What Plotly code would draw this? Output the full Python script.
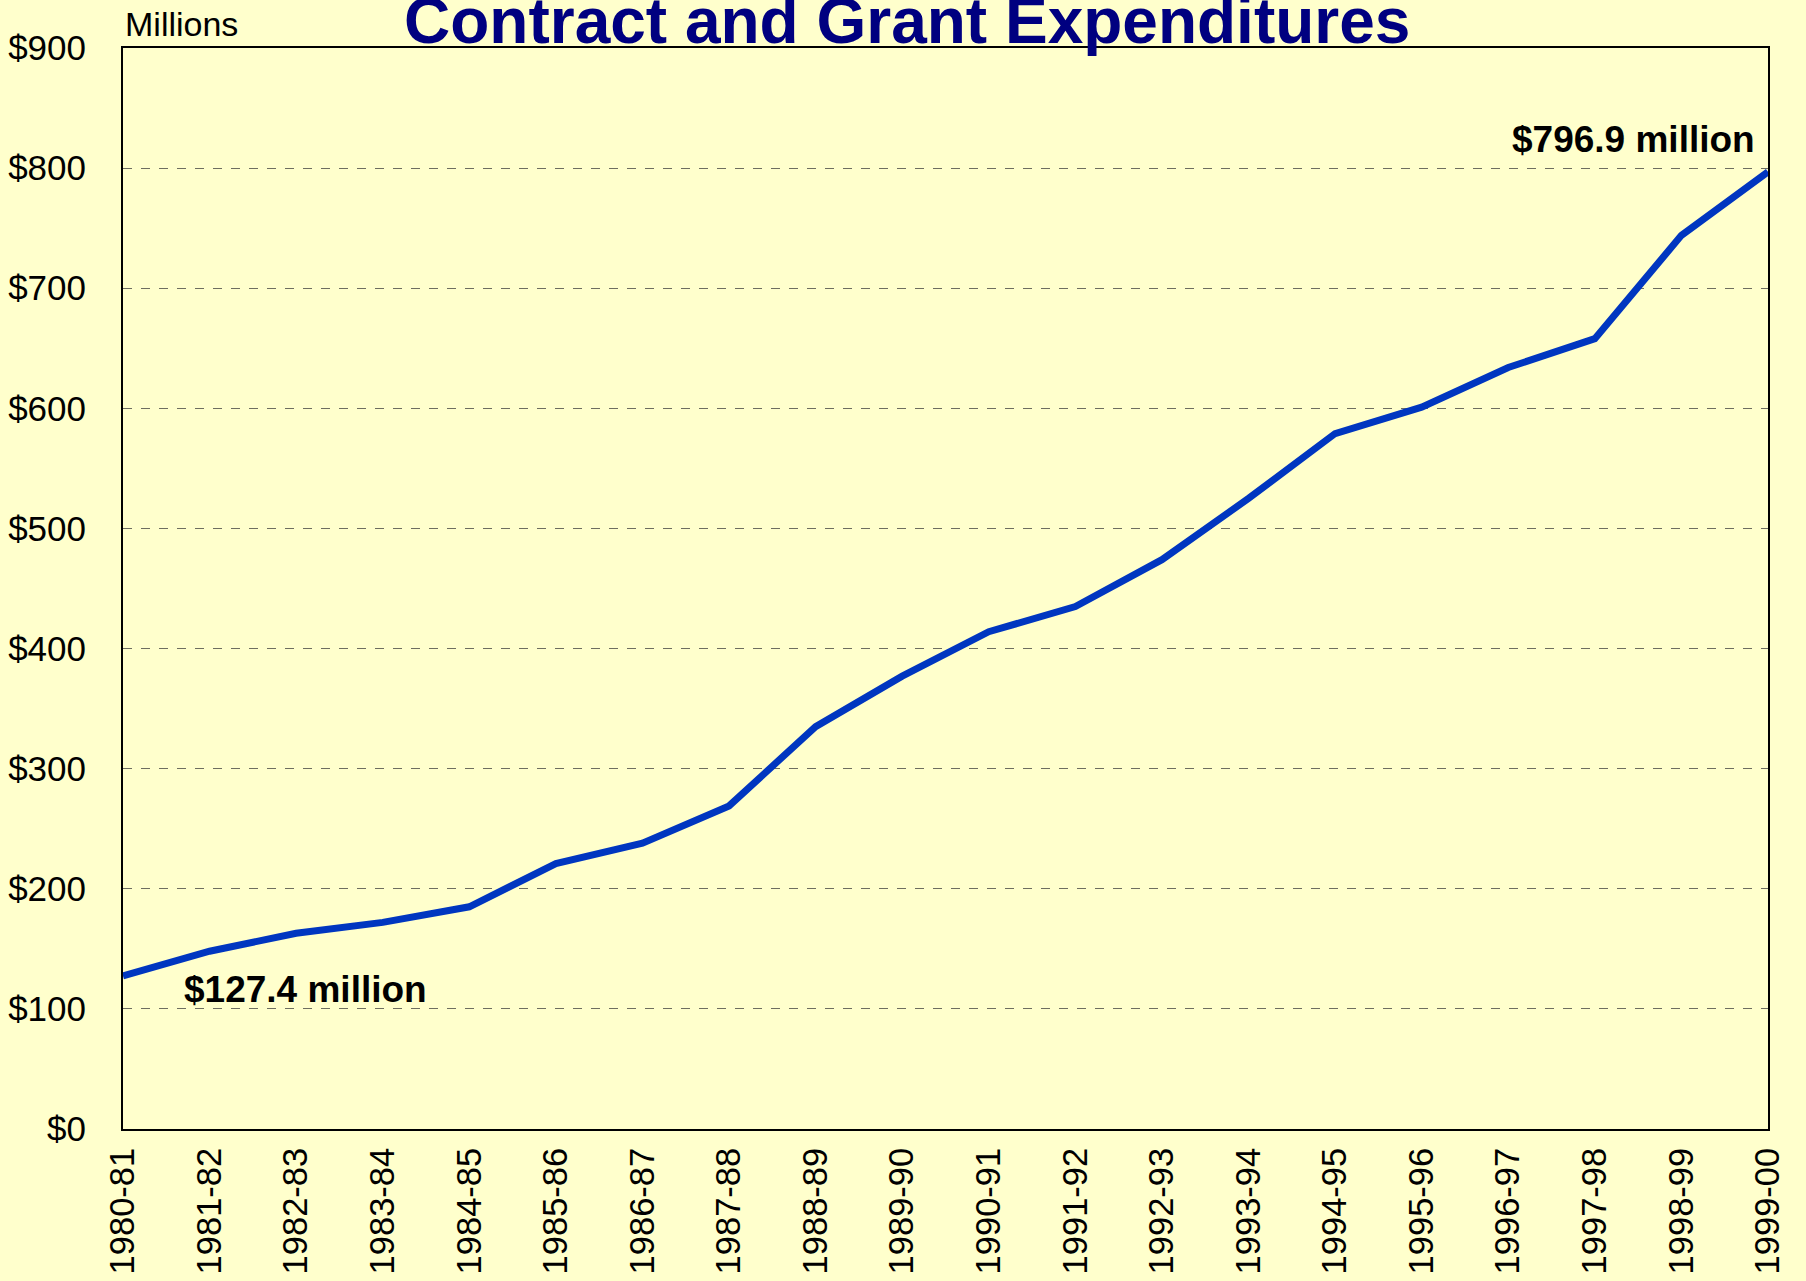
import plotly.graph_objects as go

# Gasto en contratos y subvenciones, millones de dólares
anios = ['1980-81', '1981-82', '1982-83', '1983-84', '1984-85', '1985-86', '1986-87',
         '1987-88', '1988-89', '1989-90', '1990-91', '1991-92', '1992-93', '1993-94',
         '1994-95', '1995-96', '1996-97', '1997-98', '1998-99', '1999-00']
gasto = [127.4, 148, 163, 172, 185, 221, 238, 269, 335, 377,
         414, 435, 474, 525, 579, 601, 634, 658, 744, 796.9]

y_ticks = [0, 100, 200, 300, 400, 500, 600, 700, 800, 900]
y_labels = ['$' + str(v) for v in y_ticks]

FUENTE = 'Liberation Sans, Arial, sans-serif'
FONDO = '#FFFFCC'

fig = go.Figure()
fig.add_trace(go.Scatter(x=anios, y=gasto, mode='lines',
                         line=dict(color='#0036C0', width=7),
                         showlegend=False, hoverinfo='x+y'))

fig.update_xaxes(type='category', range=[0, len(anios) - 1],
                 tickangle=-90, tickfont=dict(size=34.5, color='black', family=FUENTE),
                 showline=True, linecolor='black', linewidth=2, mirror=True,
                 showgrid=False, ticks='', ticklabelstandoff=3)
fig.update_yaxes(range=[0, 900], tickvals=y_ticks, ticktext=y_labels,
                 tickfont=dict(size=35, color='black', family=FUENTE),
                 showline=True, linecolor='black', linewidth=2, mirror=True,
                 showgrid=True, gridcolor='#6e6e60', gridwidth=1, griddash='dash',
                 zeroline=False, ticks='', ticklabelstandoff=28)

fig.add_annotation(text='<b>Contract and Grant Expenditures</b>', xref='paper', yref='paper',
                   x=0.4764, y=0.990, xanchor='center', yanchor='bottom', showarrow=False,
                   font=dict(size=64, color='#000080', family=FUENTE))
fig.add_annotation(text='Millions', xref='paper', yref='paper', x=0, y=1.022,
                   xanchor='left', yanchor='middle', showarrow=False,
                   font=dict(size=34, color='black', family=FUENTE))
fig.add_annotation(text='<b>$127.4 million</b>', xref='x', yref='y', x=2.11, y=116,
                   xanchor='center', yanchor='middle', showarrow=False,
                   font=dict(size=37, color='black', family=FUENTE))
fig.add_annotation(text='<b>$796.9 million</b>', xref='x', yref='y', x=18.87, y=824,
                   xanchor='right', yanchor='middle', showarrow=False,
                   font=dict(size=37, color='black', family=FUENTE))

fig.update_layout(width=1806, height=1281,
                  margin=dict(l=123, r=38, t=48, b=152, autoexpand=False),
                  paper_bgcolor=FONDO, plot_bgcolor=FONDO,
                  font=dict(family=FUENTE, color='black'))

# quitar el margen del body para que el fondo llegue a los bordes
fig.write_html('out.html', config={'displayModeBar': False},
               post_script="document.body.style.margin='0';"
                           "document.body.style.overflow='hidden';")
